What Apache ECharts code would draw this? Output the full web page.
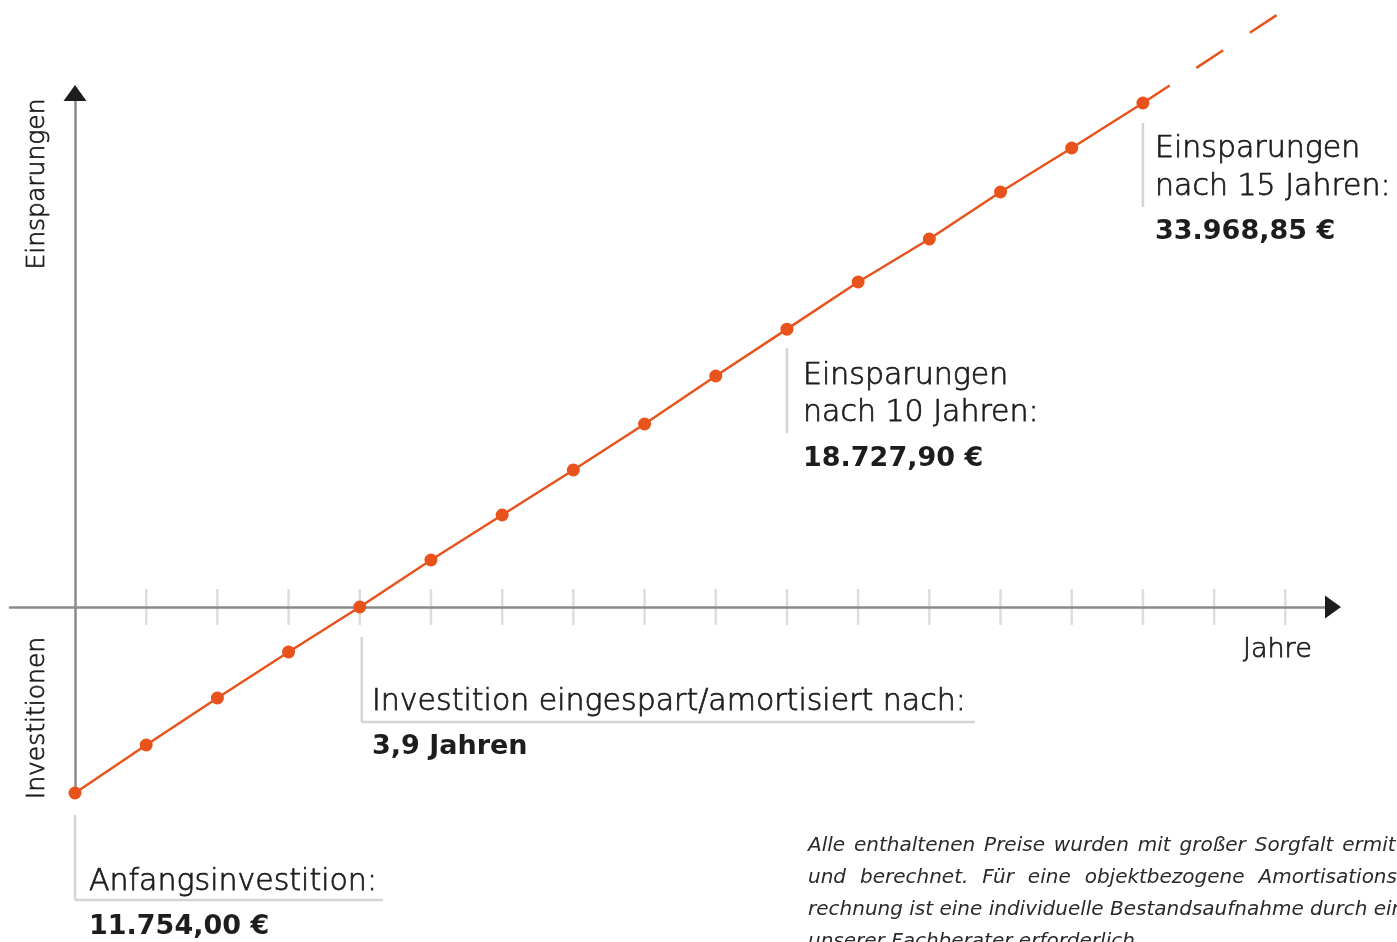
<!DOCTYPE html>
<html><head><meta charset="utf-8">
<script src="https://cdn.jsdelivr.net/npm/echarts@6/dist/echarts.min.js"></script>
<style>html,body{margin:0;padding:0;background:#fff}#c{width:1397px;height:942px}</style>
</head><body><div id="c"></div>
<script>
// ---- data ----
const years = [0,1,2,3,4,5,6,7,8,9,10,11,12,13,14,15];
const values = [-12536,-9301,-6133,-3033,0,3168,6201,9234,12334,15569,18727.9,21905,24803,27971,30937,33968.85];
const projYears = [15, 16.88];
const projValues = [33968.85, 39900];
const tickYears = [1,2,3,4,5,6,7,8,9,10,11,12,13,14,15,16,17];
const yLabelTop = 'Einsparungen';
const yLabelBottom = 'Investitionen';
const xLabel = 'Jahre';
const note15 = ['Einsparungen', 'nach 15 Jahren:', '33.968,85 €'];
const note10 = ['Einsparungen', 'nach 10 Jahren:', '18.727,90 €'];
const noteBreak = ['Investition eingespart/amortisiert nach:', '3,9 Jahren'];
const noteStart = ['Anfangsinvestition:', '11.754,00 €'];
const footnote = [
  'Alle enthaltenen Preise wurden mit großer Sorgfalt ermittelt',
  'und berechnet. Für eine objektbezogene Amortisationsbe-',
  'rechnung ist eine individuelle Bestandsaufnahme durch einen',
  'unserer Fachberater erforderlich.'
];

const ORANGE = '#E8521B';
const AXIS = '#8a8a8a';
const LIGHT = '#d4d4d4';
const DARK = '#1d1d1b';
const FONT = '"DejaVu Sans", sans-serif';
const X_MIN = -0.913, X_MAX = 17.67, Y_MIN = -12536, Y_MAX = 34644;

const chart = echarts.init(document.getElementById('c'), null, {renderer: 'canvas'});
const option = {
  animation: false,
  backgroundColor: '#fff',
  grid: {left: 10, right: 64, top: 93, bottom: 149, containLabel: false},
  xAxis: {
    type: 'value', min: X_MIN, max: X_MAX, z: 3,
    axisLine: {show: true, onZero: true, lineStyle: {color: AXIS, width: 2.5}},
    axisTick: {show: false}, axisLabel: {show: false}, splitLine: {show: false}
  },
  yAxis: {
    type: 'value', min: Y_MIN, max: Y_MAX, z: 3,
    axisLine: {show: true, onZero: true, lineStyle: {color: AXIS, width: 2.5}},
    axisTick: {show: false}, axisLabel: {show: false}, splitLine: {show: false}
  },
  series: [
    {
      type: 'scatter', z: 1, silent: true,
      symbol: 'rect', symbolSize: [2.5, 36],
      itemStyle: {color: LIGHT},
      data: tickYears.map(t => [t, 0])
    },
    {
      type: 'line', z: 5, clip: false,
      data: projYears.map((x, i) => [x, projValues[i]]),
      showSymbol: false, symbol: 'none',
      lineStyle: {color: ORANGE, width: 2.5, type: [32, 32]}
    },
    {
      type: 'line', z: 6, clip: false,
      data: years.map((x, i) => [x, values[i]]),
      symbol: 'circle', symbolSize: 13, showSymbol: true,
      lineStyle: {color: ORANGE, width: 2.5},
      itemStyle: {color: ORANGE, borderWidth: 0}
    }
  ]
};
chart.setOption(option);

const P = (x, y) => chart.convertToPixel({gridIndex: 0}, [x, y]);
const lineEl = (x1, y1, x2, y2, color) => ({
  type: 'line', z: 2, silent: true,
  shape: {x1, y1, x2, y2},
  style: {stroke: color || LIGHT, lineWidth: 2.5}
});
const textEl = (text, x, y, size, weight, opts) => {
  const light = weight !== 'bold';
  return Object.assign({
    type: 'text', z: 10, silent: true,
    style: {text, x, y, fill: DARK, fontFamily: FONT, fontSize: size, fontWeight: weight || 'normal',
            align: 'left', verticalAlign: 'middle',
            stroke: light ? DARK : null, lineWidth: light ? 0.75 : 0}
  }, opts || {});
};

const g = [];
// axis arrow heads
const xEnd = P(X_MAX, 0), yEnd = P(0, Y_MAX);
g.push({type: 'polygon', z: 4, silent: true, shape: {points: [[xEnd[0]-8, xEnd[1]-11.5],[xEnd[0]+8, xEnd[1]],[xEnd[0]-8, xEnd[1]+11.5]]}, style: {fill: DARK}});
g.push({type: 'polygon', z: 4, silent: true, shape: {points: [[yEnd[0]-11.5, yEnd[1]+8],[yEnd[0], yEnd[1]-8],[yEnd[0]+11.5, yEnd[1]+8]]}, style: {fill: DARK}});

// leader lines anchored at data points
const p0 = P(years[0], values[0]);
g.push(lineEl(p0[0], p0[1]+22, p0[0], p0[1]+107));
g.push(lineEl(p0[0], p0[1]+107, p0[0]+308, p0[1]+107));
const p4 = P(years[4], values[4]);
g.push(lineEl(p4[0]+2, p4[1]+30, p4[0]+2, p4[1]+115));
g.push(lineEl(p4[0]+2, p4[1]+115, p4[0]+615, p4[1]+115));
const p10 = P(years[10], values[10]);
g.push(lineEl(p10[0], p10[1]+19, p10[0], p10[1]+104));
const p15 = P(years[15], values[15]);
g.push(lineEl(p15[0], p15[1]+20, p15[0], p15[1]+104));

// annotation texts
const L = 30, B = 27, LW = 200;
g.push(textEl(note15[0], 1155, 149, L, LW));
g.push(textEl(note15[1], 1155, 187, L, LW));
g.push(textEl(note15[2], 1155, 232, B, 'bold'));
g.push(textEl(note10[0], 803, 376, L, LW));
g.push(textEl(note10[1], 803, 413, L, LW));
g.push(textEl(note10[2], 803, 459, B, 'bold'));
g.push(textEl(noteBreak[0], 372, 702, L, LW));
g.push(textEl(noteBreak[1], 372, 747, B, 'bold'));
g.push(textEl(noteStart[0], 89, 882, L, LW));
g.push(textEl(noteStart[1], 89, 927, B, 'bold'));
g.push(textEl(xLabel, 1243, 650, 27, LW));
g.push(textEl(yLabelTop, 37, 184, 25, LW, {rotation: Math.PI/2}));
g.push(textEl(yLabelBottom, 37, 718, 25, LW, {rotation: Math.PI/2}));
// rotated labels: use element position so rotation pivots at text center
g.forEach(el => {
  if (el.rotation) {
    el.x = el.style.x; el.y = el.style.y;
    el.style.x = 0; el.style.y = 0; el.style.align = 'center';
  }
});

// footnote, justified (last line left aligned)
const FN_SIZE = 20, FN_X = 808, FN_Y = 846, FN_LH = 32;
const fnFont = 'italic 200 ' + FN_SIZE + 'px ' + FONT;
const ctx = document.createElement('canvas').getContext('2d');
ctx.font = fnFont;
const boxW = ctx.measureText(footnote[2]).width;
footnote.forEach((line, i) => {
  const words = line.split(' ');
  const y = FN_Y + i * FN_LH;
  const mk = (t, x) => ({type: 'text', z: 10, silent: true,
    style: {text: t, x, y, fill: '#2a2a2a', fontFamily: FONT, fontSize: FN_SIZE,
            fontStyle: 'italic', fontWeight: 200, align: 'left', verticalAlign: 'middle'}});
  if (i === footnote.length - 1 || words.length < 2) { g.push(mk(line, FN_X)); return; }
  const wordsW = words.reduce((s, w) => s + ctx.measureText(w).width, 0);
  const gap = (boxW - wordsW) / (words.length - 1);
  let x = FN_X;
  words.forEach(w => { g.push(mk(w, x)); x += ctx.measureText(w).width + gap; });
});
chart.setOption({graphic: g});
</script>
</body></html>
